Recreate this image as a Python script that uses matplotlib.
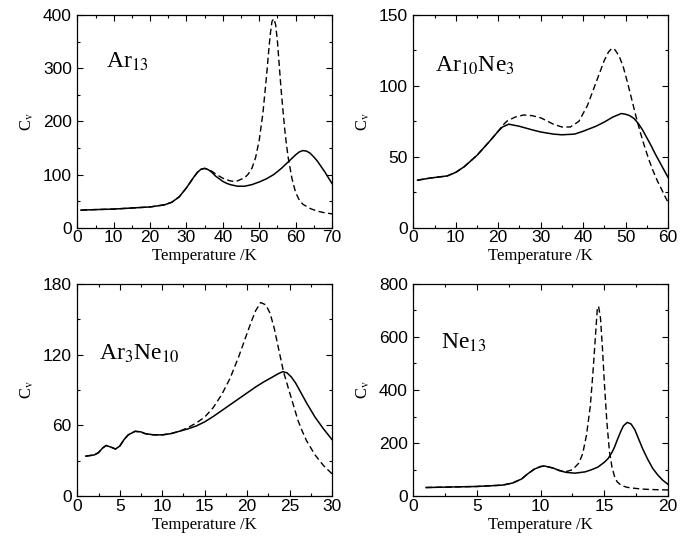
import matplotlib
matplotlib.use("Agg")
import matplotlib.pyplot as plt
from matplotlib.ticker import MultipleLocator

plt.rcParams['mathtext.fontset'] = 'stix'
plt.rcParams['font.family'] = ['Liberation Sans', 'DejaVu Sans']

# Ar13
ar13_t = [1, 5, 10, 15, 20, 24, 26, 28, 30, 31, 32, 33, 34, 35, 36, 37, 38, 39, 40, 41, 42, 44, 46,
          48, 50, 52, 54, 56, 58, 60, 61, 62, 63, 64, 65, 66, 67, 68, 69, 70]
ar13_solid = [33, 34, 35, 37, 39, 43, 48, 58, 75, 85, 95, 104, 110, 111.5, 109, 104, 97, 92, 87, 83.5, 81, 78, 78,
              81, 86, 92, 100, 111, 124, 137, 142.5, 145, 144, 140, 133, 125, 115, 105, 94, 83]
ar13_dt = [1, 5, 10, 15, 20, 24, 26, 28, 30, 31, 32, 33, 34, 35, 36, 37, 38, 40, 42, 43, 44, 46,
           47, 48, 49, 50, 51, 52, 52.5, 53, 53.5, 54, 54.5, 55, 55.5, 56, 56.5, 57, 57.5, 58, 59, 60,
           61, 62, 64, 66, 68, 70]
ar13_dash = [33, 34, 35, 37, 39, 43, 48, 58, 75, 85, 95, 104, 110, 111.5, 110, 106, 101, 93, 88, 87, 88, 94,
             101, 112, 132, 165, 215, 285, 325, 362, 388, 393, 382, 350, 305, 260, 222, 185, 155, 130, 92, 66,
             52, 44, 36, 31, 28, 26]

# Ar10Ne3
a10_t = [1, 4, 8, 10, 12, 15, 18, 20, 21, 22.5, 25, 28, 30, 33, 35, 38, 40, 43, 45, 47, 49,
         50, 51, 52, 53, 54, 55, 56, 57, 58, 59, 60]
a10_solid = [33.5, 35, 36.5, 39, 43, 51, 61, 68, 71, 73, 71.5, 69, 67.5, 66, 65.5, 66, 68, 71.5, 74.5, 78, 80.5,
             80, 79, 77, 73.5, 69, 63.5, 58, 52, 46.5, 41, 35.5]
a10_dt = [1, 4, 8, 10, 12, 15, 18, 20, 21, 22, 24, 26, 28, 30, 33, 35, 37, 39, 41, 43, 44, 45, 46, 46.8,
          47.5, 48.5, 49.5, 50.5, 51.5, 52.5, 53.5, 54.5, 55.5, 56.5, 57.5, 58.5, 59.3, 60]
a10_dash = [33.5, 35, 36.5, 39, 43, 51, 61, 68, 72, 75, 78, 79.5, 79, 77.5, 73, 71, 71, 75, 86, 102, 110, 118, 124, 126.5,
            125.5, 121, 113, 102, 90, 78, 67, 57, 48, 40, 33, 27, 22, 18]

# Ar3Ne10
a3_t = [1, 2, 2.5, 3, 3.4, 4, 4.5, 5, 5.5, 6, 6.8, 7.5, 8, 9, 10, 11, 12, 13, 14, 15, 16, 17, 18,
        19, 20, 21, 22, 23, 23.6, 24.2, 24.7, 25.2, 25.7, 26.2, 27, 28, 29, 30]
a3_solid = [34, 35, 37, 41, 43, 41.5, 40, 42.5, 48, 52, 55, 54.5, 53, 52, 52, 53, 55, 57, 59.5, 63, 67.5, 72.5, 77.5,
            82.5, 87.5, 92.5, 97, 101, 103.5, 105.5, 104.5, 101, 96, 89.5, 79, 67, 57, 48]
a3_dt = [1, 2, 2.5, 3, 3.4, 4, 4.5, 5, 5.5, 6, 6.8, 7.5, 8, 9, 10, 11, 12, 13, 14, 15, 16, 17, 18,
         19, 20, 20.5, 21, 21.6, 22.2, 22.7, 23.2, 23.7, 24.3, 25, 25.5, 26, 26.5, 27, 28, 29, 30]
a3_dash = [34, 35, 37, 41, 43, 41.5, 40, 42.5, 48, 52, 55, 54.5, 53, 52, 52, 53, 55, 58, 62, 67, 75, 86, 100,
           118, 138, 148, 157, 164, 162, 155, 142, 125, 105, 88, 76, 64, 55, 47, 35, 26, 19]

# Ne13
ne_t = [1, 3, 5, 7, 7.8, 8.5, 9, 9.5, 10, 10.3, 11, 11.5, 12, 12.7, 13.5, 14, 14.5, 15, 15.3, 15.6, 15.8,
        16, 16.3, 16.5, 16.8, 17.1, 17.4, 17.7, 18, 18.4, 18.8, 19.2, 19.6, 20]
ne_solid = [33, 35, 37, 42, 50, 65, 85, 102, 112, 114, 106, 96, 90, 87, 92, 100, 110, 128, 142, 165, 185,
            210, 245, 265, 278, 272, 250, 215, 180, 140, 105, 80, 60, 45]
ne_dt = [1, 3, 5, 7, 7.8, 8.5, 9, 9.5, 10, 10.3, 11, 11.5, 12, 12.5, 13, 13.3, 13.6, 13.9, 14.1, 14.3,
         14.45, 14.55, 14.7, 14.85, 15, 15.2, 15.4, 15.6, 15.8, 16, 16.3, 16.7, 17, 18, 19, 20]
ne_dash = [33, 35, 37, 42, 50, 65, 85, 102, 112, 114, 106, 97, 93, 100, 125, 160, 230, 340, 460, 600,
           705, 715, 670, 560, 430, 280, 170, 110, 75, 55, 42, 35, 32, 27, 25, 24]

panels = [
    (ar13_t, ar13_solid, ar13_dt, ar13_dash, 70, 10, 5, 400, 100, 50, r'Ar$_{13}$', 8, 300),
    (a10_t, a10_solid, a10_dt, a10_dash, 60, 10, 5, 150, 50, 25, r'Ar$_{10}$Ne$_{3}$', 5.2, 110),
    (a3_t, a3_solid, a3_dt, a3_dash, 30, 5, 2.5, 180, 60, 30, r'Ar$_{3}$Ne$_{10}$', 2.6, 116),
    (ne_t, ne_solid, ne_dt, ne_dash, 20, 5, 2.5, 800, 200, 100, r'Ne$_{13}$', 2.2, 555),
]

fig = plt.figure(figsize=(6.91, 5.43), dpi=100)
lefts = [0.1119, 0.5981, 0.1119, 0.5981]
bottoms = [0.5807, 0.5807, 0.0860, 0.0860]
w, h = 0.3686, 0.3917

for i, p in enumerate(panels):
    t, s, dt, d, xmax, xmaj, xmin, ymax, ymaj, ymin, label, lx, ly = p
    ax = fig.add_axes([lefts[i], bottoms[i], w, h])
    ax.plot(t, s, color='black', lw=1.1)
    ax.plot(dt, d, color='black', lw=1.0, dashes=(4.5, 2.5))
    ax.set_xlim(0, xmax)
    ax.set_ylim(0, ymax)
    ax.xaxis.set_major_locator(MultipleLocator(xmaj))
    ax.xaxis.set_minor_locator(MultipleLocator(xmin))
    ax.yaxis.set_major_locator(MultipleLocator(ymaj))
    ax.yaxis.set_minor_locator(MultipleLocator(ymin))
    ax.tick_params(which='both', direction='in', top=True, right=True, labelsize=12.5, width=0.8)
    ax.tick_params(which='major', length=4.5)
    ax.tick_params(which='minor', length=2.5)
    ax.tick_params(axis='x', pad=2)
    ax.tick_params(axis='y', pad=4)
    for sp in ax.spines.values():
        sp.set_linewidth(0.9)
    ax.set_xlabel('Temperature /K', family='Liberation Serif', fontsize=12, labelpad=2)
    ax.set_ylabel(r'C$_{\mathrm{v}}$', family='Liberation Serif', fontsize=12, labelpad=5)
    ax.text(lx, ly, label, family='Liberation Serif', fontsize=17)

fig.savefig('out.png', dpi=100)
